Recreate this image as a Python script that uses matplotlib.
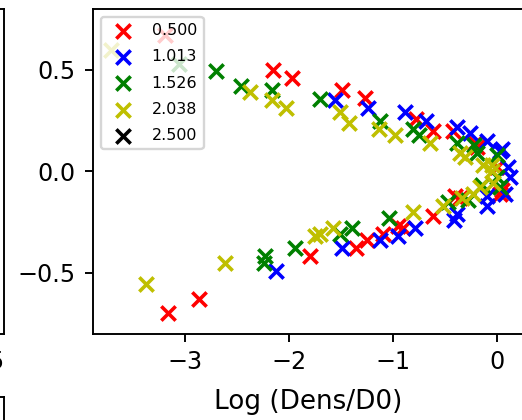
import matplotlib
matplotlib.use("Agg")
import matplotlib.pyplot as plt
import numpy as np

W, H, DPI = 522, 420, 172

labels = ["0.500", "1.013", "1.526", "2.038", "2.500"]
colors = ["r", "b", "g", "y", "k"]

red_x = [-3.19, -2.15, -1.97, -1.49, -1.27, -0.78, -0.61, -0.42, -0.21, -0.19, 0.00,
         0.05, 0.03, -0.35, -0.40, -0.61, -0.90, -0.95, -1.09, -1.25, -1.35, -1.80, -2.87, -3.16]
red_y = [0.67, 0.50, 0.46, 0.40, 0.36, 0.26, 0.20, 0.20, 0.14, 0.12, 0.02,
         -0.09, -0.11, -0.13, -0.12, -0.22, -0.28, -0.27, -0.31, -0.34, -0.38, -0.42, -0.63, -0.70]

blue_x = [-1.56, -1.24, -0.88, -0.68, -0.38, -0.26, -0.09, 0.03, 0.05, 0.11, 0.13,
          0.08, -0.09, -0.09, -0.38, -0.41, -0.79, -0.95, -1.12, -1.49, -2.12]
blue_y = [0.35, 0.31, 0.29, 0.25, 0.22, 0.19, 0.15, 0.10, 0.11, 0.02, -0.03,
          -0.11, -0.12, -0.17, -0.21, -0.24, -0.28, -0.32, -0.34, -0.38, -0.49]

green_x = [-3.06, -2.70, -2.46, -2.16, -1.70, -1.12, -0.80, -0.75, -0.38, -0.22, -0.19, 0.00, 0.00,
           0.03, -0.14, -0.27, -0.47, -1.04, -1.39, -1.51, -1.94, -2.23, -2.24]
green_y = [0.53, 0.495, 0.42, 0.40, 0.356, 0.25, 0.21, 0.18, 0.14, 0.13, 0.09, 0.08, -0.03,
           -0.08, -0.07, -0.14, -0.15, -0.23, -0.28, -0.31, -0.38, -0.42, -0.45]

yellow_x = [-3.71, -2.37, -2.16, -2.03, -1.51, -1.42, -1.13, -0.98, -0.64, -0.35, -0.30, -0.13, -0.04, -0.04,
            -0.03, -0.16, -0.23, -0.33, -0.52, -0.80, -1.58, -1.70, -1.75, -2.62, -3.38]
yellow_y = [0.60, 0.39, 0.35, 0.31, 0.29, 0.24, 0.21, 0.18, 0.14, 0.09, 0.07, 0.03, 0.03, 0.00,
            -0.06, -0.08, -0.11, -0.13, -0.17, -0.20, -0.28, -0.31, -0.32, -0.45, -0.555]

black_x = []
black_y = []

series_x = [red_x, blue_x, green_x, yellow_x, black_x]
series_y = [red_y, blue_y, green_y, yellow_y, black_y]

fig = plt.figure(figsize=(W / DPI, H / DPI), dpi=DPI)

def frac_rect(x0, x1, ytop, ybot):
    return [x0 / W, 1 - ybot / H, (x1 - x0) / W, (ybot - ytop) / H]

# main axes
ax = fig.add_axes(frac_rect(92.7, 523, 9, 333.5))
for xs, ys, c, lab in zip(series_x, series_y, colors, labels):
    ax.scatter(xs, ys, marker="x", c=c, label=lab)
ax.set_xlim(-3.89, 0.255)
ax.set_ylim(-0.80, 0.80)
ax.set_xticks([-3, -2, -1, 0])
ax.set_yticks([-0.5, 0.0, 0.5])
ax.set_xlabel("Log (Dens/D0)", fontsize=11, labelpad=6)
ax.legend(loc="upper left", fontsize=6.67, labelspacing=0.7)

# neighbouring subplots, mostly outside the cropped figure
left_x0, left_x1 = -261, 3.5
axl = fig.add_axes(frac_rect(left_x0, left_x1, 9, 333.5))
axl.set_xlim(0, 1)
axl.set_xticks([(-4 - left_x0) / (left_x1 - left_x0)])
axl.set_xticklabels(["5"])
axl.tick_params(axis="x", length=3.5)
axl.set_yticks([])

axb = fig.add_axes(frac_rect(left_x0, left_x1, 397, 700))
axb.set_xticks([])
axb.set_yticks([])

fig.savefig("out.png", dpi=DPI)
